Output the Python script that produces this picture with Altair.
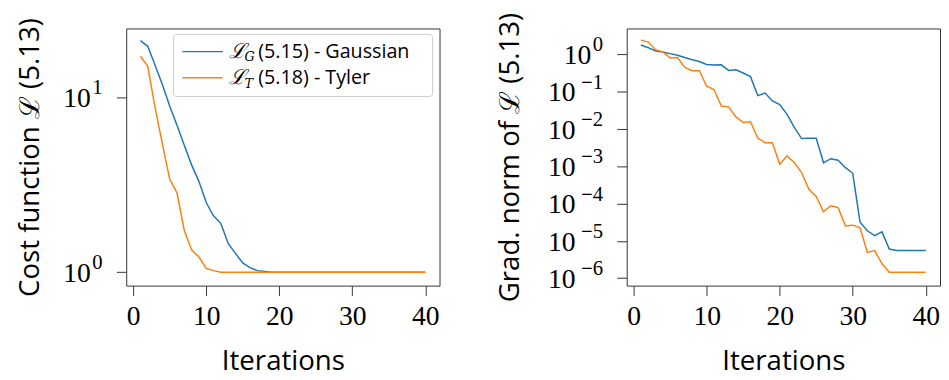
import altair as alt
import pandas as pd

iterations = list(range(1, 41))
series_names = ["Gaussian", "Tyler"]
legend_eq = ["(5.15) - Gaussian", "(5.18) - Tyler"]
legend_sub = ["G", "T"]
colors = ["#1f77b4", "#ff7f0e"]

cost_gaussian = [21.0, 19.5, 15.2, 11.8, 8.9, 6.9, 5.3, 4.1, 3.3, 2.5,
                 2.1, 1.9, 1.46, 1.28, 1.13, 1.06, 1.02, 1.01, 1.0, 1.0] + [1.0] * 20
cost_tyler = [17.1, 15.0, 8.7, 5.4, 3.4, 2.84, 1.73, 1.34, 1.22, 1.05,
              1.02, 1.0] + [1.0] * 28

grad_gaussian_log = [0.246, 0.175, 0.087, 0.061, 0.016, -0.027, -0.089, -0.15, -0.195, -0.275,
                     -0.29, -0.283, -0.433, -0.415, -0.503, -0.60, -1.11, -1.04, -1.25, -1.35,
                     -1.61, -1.96, -2.26, -2.25, -2.25, -2.91, -2.80, -2.84, -3.04, -3.19,
                     -4.50, -4.73, -4.86, -4.76, -5.22, -5.26, -5.26, -5.26, -5.26, -5.26]
grad_tyler_log = [0.378, 0.325, 0.122, 0.061, -0.098, -0.089, -0.354, -0.44, -0.44, -0.857,
                  -0.944, -1.39, -1.41, -1.68, -1.83, -1.81, -2.25, -2.37, -2.37, -2.95,
                  -2.72, -2.91, -3.17, -3.62, -3.81, -4.22, -4.06, -4.11, -4.60, -4.58,
                  -4.65, -5.31, -5.26, -5.61, -5.84, -5.84, -5.84, -5.84, -5.84, -5.84]

left_ticks = [1, 10]
left_tick_exps = ["0", "1"]
right_ticks = [1e-6, 1e-5, 1e-4, 1e-3, 1e-2, 1e-1, 1]
right_tick_exps = ["−6", "−5", "−4", "−3", "−2", "−1", "0"]
tick_base = "10"
x_ticks = [0, 10, 20, 30, 40]

W, H = 318, 261
TICK_FONT = "Liberation Serif"
TITLE_FONT = "Open Sans"
FRAME = "#333333"

cost_df = pd.DataFrame({
    "iter": iterations * 2,
    "value": cost_gaussian + cost_tyler,
    "series": [series_names[0]] * 40 + [series_names[1]] * 40,
})
grad_df = pd.DataFrame({
    "iter": iterations * 2,
    "value": [10 ** v for v in grad_gaussian_log] + [10 ** v for v in grad_tyler_log],
    "series": [series_names[0]] * 40 + [series_names[1]] * 40,
})

color_scale = alt.Scale(domain=series_names, range=colors)
x_scale = alt.Scale(domain=[-0.95, 41.95], nice=False, zero=False)

x_enc = alt.X("iter:Q", title="Iterations", scale=x_scale,
              axis=alt.Axis(values=x_ticks, format="d", grid=False, domain=False,
                            tickSize=10, tickColor=FRAME, labelFont=TICK_FONT,
                            labelFontSize=28, labelColor="black", labelPadding=7,
                            titleFont=TITLE_FONT, titleFontSize=28, titleFontWeight="normal",
                            titleColor="black", titlePadding=18))


def make_y(title, ticks, domain, title_pad):
    return alt.Y("value:Q", title=title,
                 scale=alt.Scale(type="log", domain=domain, nice=False),
                 axis=alt.Axis(values=ticks, labels=False, grid=False, domain=False,
                               tickSize=10, tickColor=FRAME, titleFont=TITLE_FONT,
                               titleFontSize=28, titleFontWeight="normal",
                               titleColor="black", titlePadding=title_pad))


def tick_label_layers(ticks, exps, y_enc):
    df = pd.DataFrame({"value": ticks, "exp": exps, "base": [tick_base] * len(ticks)})
    base = alt.Chart(df)
    short = base.transform_filter("indexof(datum.exp, '−') < 0")
    longe = base.transform_filter("indexof(datum.exp, '−') >= 0")
    txt = dict(font=TICK_FONT, color="black", baseline="middle", align="right")
    return [
        short.mark_text(fontSize=28, dy=2, **txt).encode(
            x=alt.value(-36), y=y_enc, text="base:N"),
        longe.mark_text(fontSize=28, dy=2, **txt).encode(
            x=alt.value(-52), y=y_enc, text="base:N"),
        base.mark_text(fontSize=21, dy=-9, **txt).encode(
            x=alt.value(-24), y=y_enc, text="exp:N"),
    ]


left_y = make_y("Cost function ℒ (5.13)", left_ticks, [10 ** -0.077, 10 ** 1.392], 73)
right_y = make_y("Grad. norm of ℒ (5.13)", right_ticks, [10 ** -6.2, 10 ** 0.69], 93)

left_lines = alt.Chart(cost_df).mark_line(strokeWidth=1.5).encode(
    x=x_enc, y=left_y,
    color=alt.Color("series:N", scale=color_scale, legend=None),
)

# manual legend (matplotlib style)
leg_df = pd.DataFrame({"series": series_names, "eq": legend_eq, "sub": legend_sub})
legend_layers = [
    alt.Chart(leg_df).transform_filter(alt.datum.series == series_names[0]).mark_rect(
        fill="white", stroke="#cccccc", strokeWidth=1, cornerRadius=3
    ).encode(x=alt.value(48), x2=alt.value(311), y=alt.value(6), y2=alt.value(69)),
]
row_y = [23.5, 50]
for i, name in enumerate(series_names):
    base = alt.Chart(leg_df).transform_filter(alt.datum.series == name)
    legend_layers += [
        base.mark_rule(strokeWidth=1.5, color=colors[i]).encode(
            x=alt.value(57), x2=alt.value(98), y=alt.value(row_y[i])),
        base.mark_text(align="left", baseline="middle", font="DejaVu Serif",
                       fontSize=21, fontStyle="italic", color="black").encode(
            x=alt.value(104), y=alt.value(row_y[i] + 0.5), text=alt.value("ℒ")),
        base.mark_text(align="left", baseline="middle", font="DejaVu Serif",
                       fontSize=13, fontStyle="italic", color="black").encode(
            x=alt.value(120), y=alt.value(row_y[i] + 6), text="sub:N"),
        base.mark_text(align="left", baseline="middle", font=TITLE_FONT,
                       fontSize=20, color="black").encode(
            x=alt.value(134), y=alt.value(row_y[i] + 0.5), text="eq:N"),
    ]

left = alt.layer(left_lines, *tick_label_layers(left_ticks, left_tick_exps, left_y),
                 *legend_layers).properties(width=W, height=H)

right_lines = alt.Chart(grad_df).mark_line(strokeWidth=1.5).encode(
    x=x_enc, y=right_y,
    color=alt.Color("series:N", scale=color_scale, legend=None),
)
right = alt.layer(right_lines, *tick_label_layers(right_ticks, right_tick_exps, right_y)
                  ).properties(width=W, height=H)

chart = alt.hconcat(left, right, spacing=57).properties(
    padding={"left": 7, "top": 1, "right": 0, "bottom": 0}, background="white"
).configure_view(stroke=FRAME, strokeWidth=1)

chart.save("out.html", embed_options={"renderer": "svg", "actions": False})
